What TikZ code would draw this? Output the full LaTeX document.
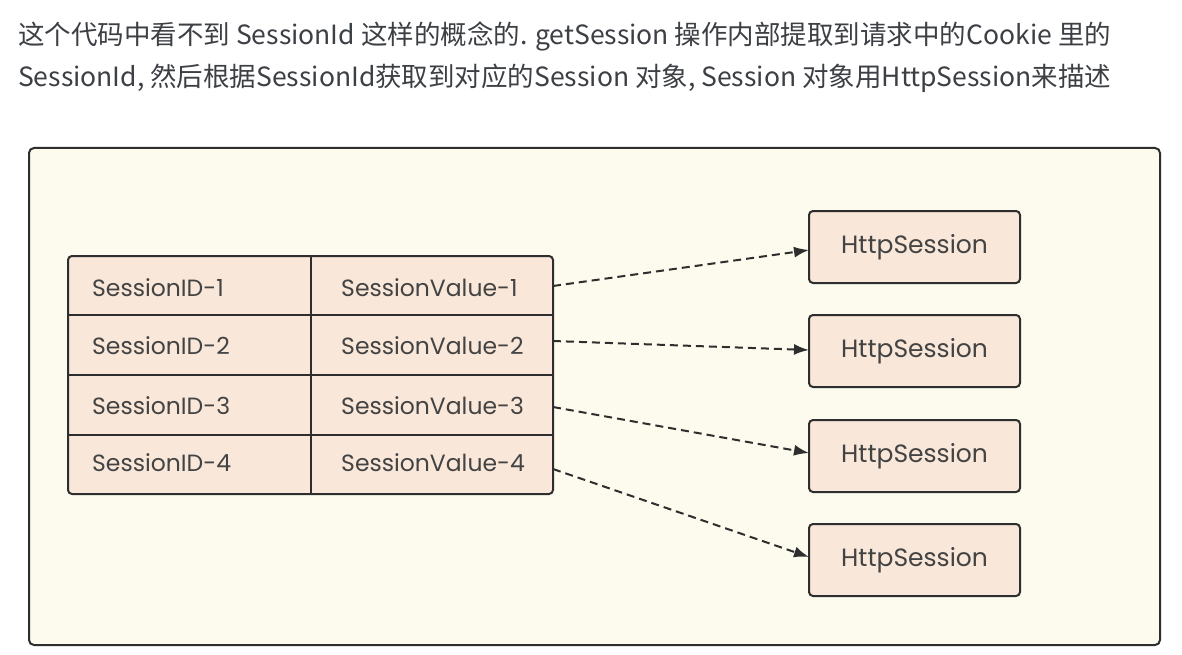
\documentclass[tikz,border=0pt]{standalone}
\usepackage{fontspec}
\newfontfamily\cjk{Noto Sans CJK SC}
\newfontfamily\diag{Poppins}
\usetikzlibrary{arrows.meta}
\definecolor{txt}{HTML}{3C3F44}
\definecolor{frameFill}{HTML}{FCFBEE}
\definecolor{peach}{HTML}{F9E7D9}
\definecolor{ink}{HTML}{2E2E2E}
\tikzset{
  headline/.style={anchor=base west, inner sep=0pt, text=txt, font=\cjk\fontsize{26.5}{30}\selectfont},
  celltext/.style={anchor=west, inner sep=0pt, text=ink!90, font=\diag\fontsize{23.5}{28}\selectfont},
  sessbox/.style={draw=ink, line width=2pt, fill=peach, rounded corners=4pt,
    minimum width=211pt, minimum height=72pt, inner sep=0pt, text=ink!90,
    font=\diag\fontsize{25}{30}\selectfont},
  link/.style={draw=ink, line width=2pt, dash pattern=on 8pt off 5pt,
    -{Latex[length=15pt,width=11pt]}},
  rule/.style={draw=ink, line width=2pt},
}
\begin{document}
\begin{tikzpicture}[x=1pt,y=-1pt]
\useasboundingbox[fill=white] (0,0) rectangle (1182,655);
% headline text
\node[headline] (l1) at (18,45) {这个代码中看不到 SessionId 这样的概念的. getSession 操作内部提取到请求中的Cookie 里的};
\node[headline] (l2) at (18,87) {SessionId, 然后根据SessionId获取到对应的Session 对象, Session 对象用HttpSession来描述};
% outer frame
\draw[rule, fill=frameFill, rounded corners=5pt] (29,148) rectangle (1160,645);
% table
\draw[rule, fill=peach, rounded corners=4pt] (68,256) rectangle (553,494);
\draw[rule] (311,256) -- (311,494);
\draw[rule] (68,315) -- (553,315);
\draw[rule] (68,375) -- (553,375);
\draw[rule] (68,435) -- (553,435);
\node[celltext] (id1) at (92,288) {SessionID-1};
\node[celltext] (id2) at (92,346) {SessionID-2};
\node[celltext] (id3) at (92,406) {SessionID-3};
\node[celltext] (id4) at (92,463) {SessionID-4};
\node[celltext] (v1) at (341,288) {SessionValue-1};
\node[celltext] (v2) at (341,346) {SessionValue-2};
\node[celltext] (v3) at (341,406) {SessionValue-3};
\node[celltext] (v4) at (341,463) {SessionValue-4};
\coordinate (s1) at (553,286);
\coordinate (s2) at (553,341);
\coordinate (s3) at (553,407);
\coordinate (s4) at (553,469);
% session boxes
\node[sessbox] (h1) at (914.5,247) {HttpSession};
\node[sessbox] (h2) at (914.5,351) {HttpSession};
\node[sessbox] (h3) at (914.5,456) {HttpSession};
\node[sessbox] (h4) at (914.5,560) {HttpSession};
\coordinate (e1) at (809,250);
\coordinate (e2) at (809,350);
\coordinate (e3) at (809,453);
\coordinate (e4) at (809,557);
\draw[link] (s1) -- (e1);
\draw[link] (s2) -- (e2);
\draw[link] (s3) -- (e3);
\draw[link] (s4) -- (e4);
\end{tikzpicture}
\end{document}
